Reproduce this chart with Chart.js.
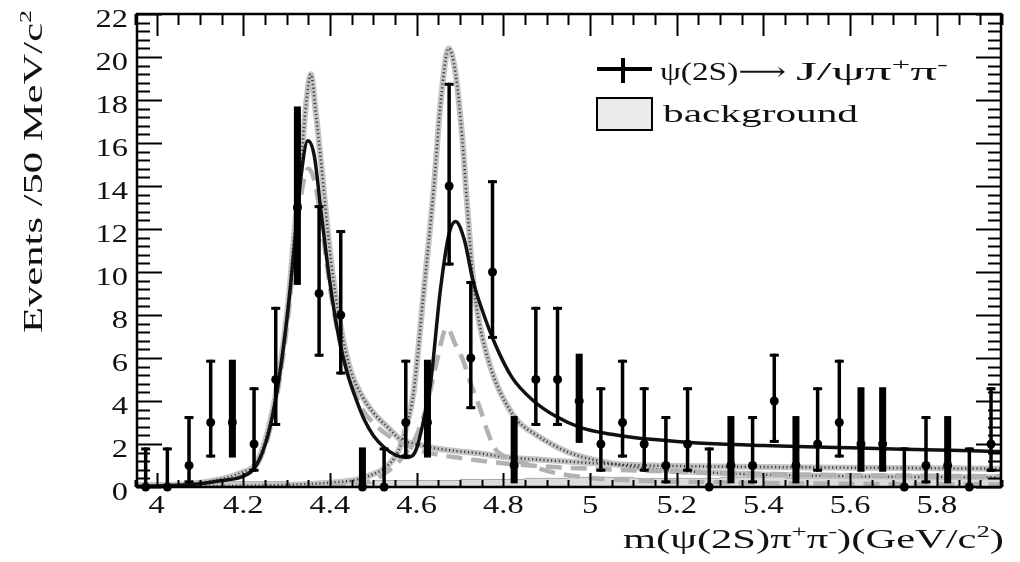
<!DOCTYPE html>
<html><head><meta charset="utf-8">
<script src="https://cdn.jsdelivr.net/npm/chart.js@4.4.0/dist/chart.umd.min.js"></script>
<style>html,body{margin:0;padding:0;background:#fff;} #wrap{width:1020px;height:562px;}</style>
</head><body><div id="wrap"><canvas id="c" width="1020" height="562"></canvas></div>
<script>
// ---------------- DATA ----------------
const binCenters = [3.975,4.025,4.075,4.125,4.175,4.225,4.275,4.325,4.375,4.425,4.475,4.525,4.575,4.625,4.675,4.725,4.775,4.825,4.875,4.925,4.975,5.025,5.075,5.125,5.175,5.225,5.275,5.325,5.375,5.425,5.475,5.525,5.575,5.625,5.675,5.725,5.775,5.825,5.875,5.925];
const counts     = [0,0,1,3,3,2,5,13,9,8,0,0,3,3,14,6,10,1,5,5,4,2,3,2,1,2,0,1,1,4,1,2,3,2,2,0,1,1,0,2];
const errLowEdge = [0,0,0.17,1.37,1.37,0.71,2.84,9.4,6.06,5.23,0,0,1.37,1.37,10.3,3.62,6.89,0.17,2.84,2.84,2.05,0.71,1.37,0.71,0.17,0.71,0,0.17,0.17,2.05,0.17,0.71,1.37,0.71,0.71,0,0.17,0.17,0,0.71];
const errHighEdge= [1.84,1.84,3.3,5.92,5.92,4.64,8.38,17.7,13.11,11.95,1.84,1.84,5.92,5.92,18.8,9.58,14.27,3.3,8.38,8.38,6.2,4.64,5.92,4.64,3.3,4.64,1.84,3.3,3.3,6.2,3.3,4.64,5.92,4.64,4.64,1.84,3.3,3.3,1.84,4.64];
const bkgEdges   = [3.95,4.0,4.05,4.1,4.15,4.2,4.25,4.3,4.35,4.4,4.45,4.5,4.55,4.6,4.65,4.7,4.75,4.8,4.85,4.9,4.95,5.0,5.05,5.1,5.15,5.2,5.25,5.3,5.35,5.4,5.45,5.5,5.55,5.6,5.65,5.7,5.75,5.8,5.85,5.9,5.95];
const bkgCounts  = [0.2,0.2,0.2,0.2,0.2,0.25,0.25,0.25,0.2,0.2,0.2,0.2,0.3,0.3,0.3,0.3,0.35,0.35,0.35,0.4,0.4,0.45,0.45,0.45,0.4,0.4,0.4,0.4,0.45,0.45,0.45,0.4,0.4,0.4,0.45,0.45,0.45,0.4,0.4,0.45];

const fitX = [3.955,4.05,4.1,4.15,4.2,4.23,4.257,4.28,4.303,4.318,4.333,4.349,4.364,4.379,4.4,4.42,4.44,4.46,4.48,4.5,4.525,4.55,4.575,4.59,4.6,4.615,4.632,4.655,4.675,4.69,4.71,4.73,4.75,4.78,4.82,4.87,4.92,4.98,5.05,5.1,5.2,5.3,5.4,5.5,5.6,5.7,5.8,5.9,5.948];
const fitY = [0.03,0.08,0.15,0.3,0.5,1.0,2.4,4.7,8.2,11.2,14.4,16.1,15.4,12.9,9.5,7.0,5.3,4.1,3.1,2.4,1.85,1.5,1.37,1.45,1.8,3.0,4.8,9.2,11.8,12.35,11.5,9.6,8.3,6.7,5.1,4.0,3.3,2.75,2.45,2.3,2.12,2.0,1.93,1.87,1.82,1.77,1.72,1.67,1.65];

const dotAX = [3.955,4.1,4.2,4.23,4.257,4.28,4.303,4.318,4.333,4.345,4.356,4.367,4.379,4.402,4.425,4.448,4.475,4.501,4.54,4.563,4.6,4.63,4.68,4.75,4.8,4.9,5.0,5.1,5.3,5.6,5.948];
const dotAY = [0.05,0.2,0.7,1.1,2.6,4.9,8.4,11.8,15.0,17.8,19.2,17.5,15.2,10.6,7.45,5.4,4.2,3.44,2.65,2.2,2.0,1.85,1.7,1.55,1.4,1.25,1.12,1.02,0.95,0.9,0.85];

const dotBX = [3.955,4.3,4.4,4.464,4.5,4.524,4.556,4.575,4.593,4.616,4.64,4.655,4.674,4.69,4.705,4.717,4.731,4.745,4.77,4.793,4.832,4.87,4.947,5.023,5.115,5.3,5.6,5.948];
const dotBY = [0.02,0.1,0.2,0.35,0.6,0.85,1.6,2.7,4.4,9.0,14.0,17.8,20.4,19.2,16.3,13.0,9.5,7.6,5.6,4.4,3.1,2.5,1.64,1.2,0.9,0.65,0.5,0.45];

const dashAX = [3.955,4.1,4.2,4.23,4.257,4.28,4.303,4.318,4.333,4.35,4.365,4.38,4.4,4.42,4.44,4.47,4.51,4.55,4.6,4.65,4.7,4.8,4.9,5.0,5.3,5.6,5.948];
const dashAY = [0.03,0.15,0.55,0.95,2.3,4.5,7.8,10.8,13.5,14.8,14.2,12.3,9.3,7.0,5.4,3.8,2.8,2.2,1.75,1.5,1.35,1.1,0.95,0.85,0.65,0.55,0.5];

const dashBX = [4.4,4.5,4.524,4.55,4.58,4.6,4.625,4.645,4.67,4.69,4.705,4.725,4.747,4.765,4.78,4.82,4.85,4.9,4.95,5.05,5.3,5.6,5.948];
const dashBY = [0.05,0.3,0.6,1.0,1.7,2.4,3.9,5.7,7.4,6.6,6.0,4.8,3.6,2.5,1.8,1.3,1.1,0.75,0.55,0.35,0.22,0.15,0.12];

const yTickValues = [0,2,4,6,8,10,12,14,16,18,20,22];
const yTickLabels = ['0','2','4','6','8','10','12','14','16','18','20','22'];
const xTickValues = [4.0,4.2,4.4,4.6,4.8,5.0,5.2,5.4,5.6,5.8];
const xTickLabels = ['4','4.2','4.4','4.6','4.8','5','5.2','5.4','5.6','5.8'];

const xTitle = [['m(\u03C8(2S)\u03C0',0],['+',1],['\u03C0',0],['-',1],[')(GeV/c',0],['2',1],[')',0]];
const yTitle = [['Events /50 MeV/c',0],['2',1]];
const legend1a = [['\u03C8(2S)\u27F6',0]];
const legend1b = [['J/\u03C8\u03C0',0],['+',1],['\u03C0',0],['-',1]];
const legend2 = [['background',0]];

// ---------------- STYLE ----------------
const wideBars = [4,7,10,13,17,20,27,30,33,34,37];
const FONT = '"Liberation Serif","Times New Roman","DejaVu Serif",serif';

const pts = (xs, ys) => xs.map((v,i)=>({x:v,y:ys[i]}));

function richWidth(ctx, segs, size){
  let w=0;
  for(const [t,s] of segs){ ctx.font = (s? Math.round(size*0.62):size)+'px '+FONT; w += ctx.measureText(t).width; }
  return w;
}
function drawRich(ctx, segs, size, sx, align){
  const w = richWidth(ctx, segs, size);
  ctx.save();
  ctx.scale(sx,1);
  let cx = align==='right' ? -w : (align==='center' ? -w/2 : 0);
  ctx.textBaseline='alphabetic'; ctx.textAlign='left'; ctx.fillStyle='#111';
  for(const [t,s] of segs){
    ctx.font = (s? Math.round(size*0.62):size)+'px '+FONT;
    ctx.fillText(t, cx, s ? -size*0.4 : 0);
    cx += ctx.measureText(t).width;
  }
  ctx.restore();
}
function fitRich(ctx, segs, size, targetW){ return targetW / richWidth(ctx, segs, size); }

const decor = {
  id:'decor',
  afterDatasetsDraw(chart){
    const {ctx, chartArea:a, scales:{x,y}} = chart;
    ctx.save();
    ctx.fillStyle='#000';
    binCenters.forEach((c,i)=>{
      const px = x.getPixelForValue(c);
      const y1 = y.getPixelForValue(errLowEdge[i]);
      const y2 = y.getPixelForValue(errHighEdge[i]);
      const wide = wideBars.includes(i);
      const w = wide ? 7 : 3.5;
      ctx.fillRect(px-w/2, y2, w, y1-y2);
      if(!wide){
        ctx.fillRect(px-4.5, y2, 9, 3);
        if(errLowEdge[i]>0) ctx.fillRect(px-4.5, y1-3, 9, 3);
      }
    });
    ctx.restore();
  },
  afterDraw(chart){
    const {ctx, chartArea:a, scales:{x,y}} = chart;
    ctx.save();
    ctx.strokeStyle='#000';
    ctx.lineWidth=2;
    ctx.beginPath();
    for(let v=0; v<=22.001; v+=0.4){
      const py = Math.round(y.getPixelForValue(v))+0.5;
      const major = Math.abs(v/2 - Math.round(v/2))<1e-6;
      const L = major ? 25 : 13;
      ctx.moveTo(a.left, py); ctx.lineTo(a.left+L, py);
      ctx.moveTo(a.right, py); ctx.lineTo(a.right-L, py);
    }
    for(let v=3.95; v<=5.951; v+=0.05){
      const px = Math.round(x.getPixelForValue(v))+0.5;
      const major = Math.abs(v/0.2 - Math.round(v/0.2))<1e-6;
      ctx.moveTo(px, a.bottom); ctx.lineTo(px, a.bottom-(major?14:7));
      ctx.moveTo(px, a.top); ctx.lineTo(px, a.top+(major?22:11));
    }
    ctx.stroke();
    ctx.lineWidth=2.5;
    ctx.strokeRect(a.left, a.top, a.right-a.left, a.bottom-a.top);
    yTickValues.forEach((v,i)=>{
      ctx.save(); ctx.translate(128, y.getPixelForValue(v)+13);
      drawRich(ctx, [[yTickLabels[i],0]], 25, 1.3, 'right'); ctx.restore();
    });
    xTickValues.forEach((v,i)=>{
      ctx.save(); ctx.translate(x.getPixelForValue(v), 513);
      drawRich(ctx, [[xTickLabels[i],0]], 25, 1.3, 'center'); ctx.restore();
    });
    ctx.save(); ctx.translate(1004, 548);
    drawRich(ctx, xTitle, 27, fitRich(ctx, xTitle, 27, 381), 'right'); ctx.restore();
    ctx.save(); ctx.translate(42, 333); ctx.rotate(-Math.PI/2);
    drawRich(ctx, yTitle, 28, fitRich(ctx, yTitle, 28, 323), 'left'); ctx.restore();
    ctx.fillStyle='#000';
    ctx.fillRect(597, 67, 55, 4);
    ctx.fillRect(621, 58, 4, 25);
    ctx.fillStyle='#ebebeb'; ctx.fillRect(597, 98, 55, 32);
    ctx.lineWidth=2; ctx.strokeStyle='#000'; ctx.strokeRect(597, 98, 55, 32);
    ctx.save(); ctx.translate(660, 80);
    drawRich(ctx, legend1a, 26, fitRich(ctx, legend1a, 26, 126), 'left'); ctx.restore();
    ctx.save(); ctx.translate(796, 80);
    drawRich(ctx, legend1b, 26, fitRich(ctx, legend1b, 26, 152), 'left'); ctx.restore();
    ctx.save(); ctx.translate(663, 122);
    drawRich(ctx, legend2, 26, fitRich(ctx, legend2, 26, 195), 'left'); ctx.restore();
    ctx.restore();
  }
};

const lineDs = (data, color, width, dash, order) => ({
  type:'line', data, showLine:true, borderColor:color, borderWidth:width, borderDash:dash||[],
  pointRadius:0, fill:false, cubicInterpolationMode:'monotone', order, borderCapStyle:'butt'
});

new Chart(document.getElementById('c'), {
  type:'scatter',
  data:{ datasets:[
    { type:'line', data: pts(bkgEdges, bkgCounts.concat([bkgCounts[bkgCounts.length-1]])), stepped:'after',
      borderColor:'#aaaaaa', borderWidth:1, backgroundColor:'#dcdcdc', fill:'origin', pointRadius:0, order:9 },
    lineDs(pts(dotAX,dotAY), '#c4c4c4', 6, [], 8),
    lineDs(pts(dotBX,dotBY), '#c4c4c4', 6, [], 8),
    lineDs(pts(dotAX,dotAY), '#3c3c3c', 2.5, [1.2,2.6], 7),
    lineDs(pts(dotBX,dotBY), '#3c3c3c', 2.5, [1.2,2.6], 7),
    lineDs(pts(dashAX,dashAY), '#b2b2b2', 4.5, [16,9], 6),
    lineDs(pts(dashBX,dashBY), '#b2b2b2', 4.5, [16,9], 6),
    lineDs(pts(fitX,fitY), '#111111', 3.5, [], 5),
    { data: pts(binCenters, counts), pointRadius:4.5, pointBackgroundColor:'#000', pointBorderWidth:0, showLine:false, clip:false, order:1 }
  ]},
  options:{
    responsive:false, animation:false, devicePixelRatio:1,
    layout:{ padding:{ left:137, right:19, top:14, bottom:75 } },
    scales:{
      x:{ type:'linear', min:3.955, max:5.948, display:false },
      y:{ type:'linear', min:0, max:22, display:false }
    },
    plugins:{ legend:{display:false}, tooltip:{enabled:false} }
  },
  plugins:[decor]
});
</script>
</body></html>
